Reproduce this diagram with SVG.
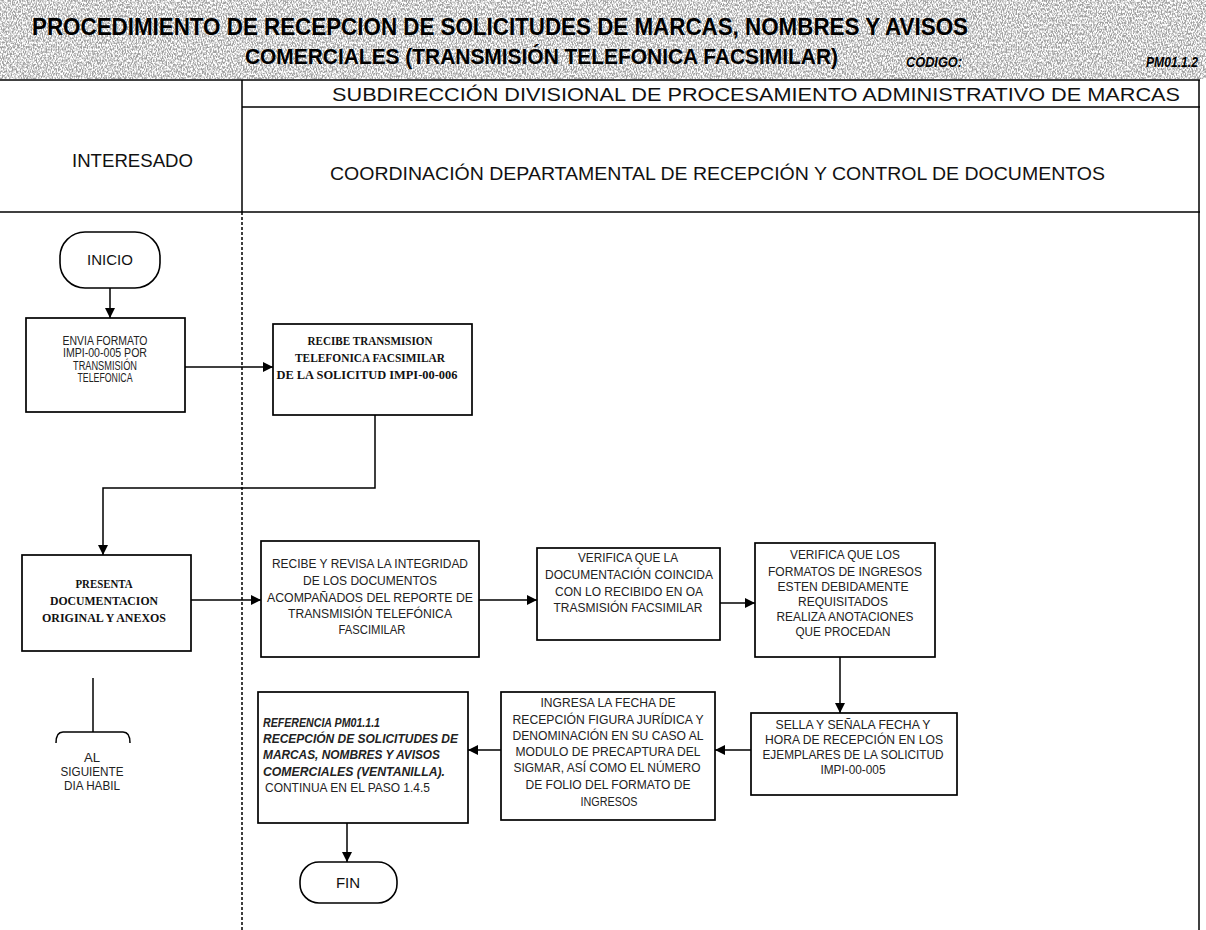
<svg xmlns="http://www.w3.org/2000/svg" width="1206" height="930" viewBox="0 0 1206 930">
  <defs>
    <filter id="grain" x="0" y="0" width="100%" height="100%">
      <feTurbulence type="fractalNoise" baseFrequency="0.8 0.45" numOctaves="2" seed="7"/>
      <feColorMatrix type="matrix" values="0 0 0 0 0.35  0 0 0 0 0.35  0 0 0 0 0.35  3.6 0 0 0 -1.35"/>
    </filter>
    <marker id="ah" viewBox="0 0 10 10" refX="10" refY="5" markerWidth="11" markerHeight="10" markerUnits="userSpaceOnUse" orient="auto">
      <path d="M0,0 L10,5 L0,10 z" fill="#000"/>
    </marker>
    <style>
      .title { font-family: "Liberation Sans", Arial, sans-serif; font-weight: bold; fill: #000; }
      .hdr { font-family: "Liberation Sans", Arial, sans-serif; font-size: 19px; fill: #111; }
      .box { fill: #fff; stroke: #000; stroke-width: 1.7; }
      .term { fill: #fff; stroke: #000; stroke-width: 1.6; }
      .t { font-family: "Liberation Sans", Arial, sans-serif; font-size: 12px; fill: #222; text-anchor: middle; }
      .ts { font-family: "Liberation Serif", "Times New Roman", serif; font-size: 12px; fill: #111; text-anchor: middle; font-weight: bold; }
      .tr { font-family: "Liberation Sans", Arial, sans-serif; font-size: 12px; fill: #222; }
      .ti { font-style: italic; font-weight: bold; }
      .tt { font-family: "Liberation Sans", Arial, sans-serif; font-size: 15px; fill: #111; text-anchor: middle; }
      .rule { stroke: #000; stroke-width: 1.5; fill: none; }
      .conn { stroke: #000; stroke-width: 1.5; fill: none; }
    </style>
  </defs>

  <rect width="1206" height="930" fill="#fff"/>

  <!-- title band -->
  <g id="title">
    <rect x="0" y="0" width="1206" height="79" fill="#fff" filter="url(#grain)"/>
    <text class="title" x="32" y="35" font-size="24" textLength="936" lengthAdjust="spacingAndGlyphs">PROCEDIMIENTO DE RECEPCION DE SOLICITUDES DE MARCAS, NOMBRES Y AVISOS</text>
    <text class="title" x="245" y="64" font-size="22" textLength="593" lengthAdjust="spacingAndGlyphs">COMERCIALES (TRANSMISIÓN TELEFONICA FACSIMILAR)</text>
    <text class="title" x="906" y="67" font-size="14" font-style="italic" textLength="56" lengthAdjust="spacingAndGlyphs">CÓDIGO:</text>
    <text class="title" x="1146" y="67" font-size="14" font-style="italic" font-weight="normal" textLength="52" lengthAdjust="spacingAndGlyphs">PM01.1.2</text>
  </g>

  <!-- swimlane table -->
  <g id="lanes">
    <line class="rule" x1="0" y1="80" x2="1200" y2="80"/>
    <line class="rule" x1="242" y1="107" x2="1200" y2="107"/>
    <line class="rule" x1="0" y1="212" x2="1200" y2="212"/>
    <line class="rule" x1="1199" y1="80" x2="1199" y2="930"/>
    <line class="rule" x1="242" y1="80" x2="242" y2="212"/>
    <line class="rule" x1="242" y1="212" x2="242" y2="930" stroke-dasharray="3 2"/>
    <text class="hdr" x="332" y="101" textLength="848" lengthAdjust="spacingAndGlyphs">SUBDIRECCIÓN DIVISIONAL DE PROCESAMIENTO ADMINISTRATIVO DE MARCAS</text>
    <text class="hdr" x="72" y="167" textLength="121" lengthAdjust="spacingAndGlyphs">INTERESADO</text>
    <text class="hdr" x="330" y="180" textLength="775" lengthAdjust="spacingAndGlyphs">COORDINACIÓN DEPARTAMENTAL DE RECEPCIÓN Y CONTROL DE DOCUMENTOS</text>
  </g>

  <!-- connectors -->
  <g id="connectors">
    <path class="conn" d="M110,288 L110,318" marker-end="url(#ah)"/>
    <path class="conn" d="M185,367 L273,367" marker-end="url(#ah)"/>
    <path class="conn" d="M375,415 L375,488 L103,488 L103,555" marker-end="url(#ah)"/>
    <path class="conn" d="M191,600 L261,600" marker-end="url(#ah)"/>
    <path class="conn" d="M479,600 L537,600" marker-end="url(#ah)"/>
    <path class="conn" d="M720,603 L755,603" marker-end="url(#ah)"/>
    <path class="conn" d="M840,657 L840,713" marker-end="url(#ah)"/>
    <path class="conn" d="M751,750 L715,750" marker-end="url(#ah)"/>
    <path class="conn" d="M501,750 L468,750" marker-end="url(#ah)"/>
    <path class="conn" d="M347,823 L347,862" marker-end="url(#ah)"/>
  </g>

  <g id="inicio">
    <rect class="term" x="60" y="232" width="100" height="56" rx="25"/>
    <text class="tt" x="110" y="265">INICIO</text>
  </g>

  <g id="envia">
    <rect class="box" x="26" y="318" width="159" height="94"/>
    <text class="t" x="105" y="345" textLength="85" lengthAdjust="spacingAndGlyphs">ENVIA FORMATO</text>
    <text class="t" x="105" y="357" textLength="84" lengthAdjust="spacingAndGlyphs">IMPI-00-005 POR</text>
    <text class="t" x="105" y="370" textLength="64" lengthAdjust="spacingAndGlyphs">TRANSMISIÓN</text>
    <text class="t" x="105" y="382" textLength="55" lengthAdjust="spacingAndGlyphs">TELEFONICA</text>
  </g>

  <g id="recibe-transmision">
    <rect class="box" x="273" y="324" width="199" height="91"/>
    <text class="ts" x="370" y="345" textLength="125" lengthAdjust="spacingAndGlyphs">RECIBE TRANSMISION</text>
    <text class="ts" x="370" y="362" textLength="150" lengthAdjust="spacingAndGlyphs">TELEFONICA FACSIMILAR</text>
    <text class="ts" x="367" y="379" textLength="181" lengthAdjust="spacingAndGlyphs">DE LA SOLICITUD IMPI-00-006</text>
  </g>

  <g id="presenta">
    <rect class="box" x="22" y="555" width="169" height="96"/>
    <text class="ts" x="104" y="588" textLength="57" lengthAdjust="spacingAndGlyphs">PRESENTA</text>
    <text class="ts" x="104" y="605" textLength="108" lengthAdjust="spacingAndGlyphs">DOCUMENTACION</text>
    <text class="ts" x="104" y="622" textLength="124" lengthAdjust="spacingAndGlyphs">ORIGINAL Y ANEXOS</text>
  </g>

  <g id="siguiente-dia">
    <path class="conn" d="M93,678 L93,732"/>
    <path class="conn" d="M56,743 Q56,732 63,732 L123,732 Q130,732 130,743"/>
    <text class="t" x="92" y="762" textLength="16" lengthAdjust="spacingAndGlyphs">AL</text>
    <text class="t" x="92" y="776" textLength="63" lengthAdjust="spacingAndGlyphs">SIGUIENTE</text>
    <text class="t" x="92" y="790" textLength="56" lengthAdjust="spacingAndGlyphs">DIA HABIL</text>
  </g>

  <g id="recibe-revisa">
    <rect class="box" x="261" y="541" width="218" height="116"/>
    <text class="t" x="370" y="568" textLength="196" lengthAdjust="spacingAndGlyphs">RECIBE Y REVISA LA INTEGRIDAD</text>
    <text class="t" x="370" y="585" textLength="134" lengthAdjust="spacingAndGlyphs">DE LOS DOCUMENTOS</text>
    <text class="t" x="370" y="602" textLength="206" lengthAdjust="spacingAndGlyphs">ACOMPAÑADOS DEL REPORTE DE</text>
    <text class="t" x="370" y="618" textLength="164" lengthAdjust="spacingAndGlyphs">TRANSMISIÓN  TELEFÓNICA</text>
    <text class="t" x="372" y="634" textLength="67" lengthAdjust="spacingAndGlyphs">FASCIMILAR</text>
  </g>

  <g id="verifica-coincida">
    <rect class="box" x="537" y="548" width="183" height="92"/>
    <text class="t" x="628" y="562" textLength="100" lengthAdjust="spacingAndGlyphs">VERIFICA QUE LA</text>
    <text class="t" x="629" y="579" textLength="168" lengthAdjust="spacingAndGlyphs">DOCUMENTACIÓN COINCIDA</text>
    <text class="t" x="629" y="596" textLength="148" lengthAdjust="spacingAndGlyphs">CON LO RECIBIDO EN OA</text>
    <text class="t" x="628" y="612" textLength="149" lengthAdjust="spacingAndGlyphs">TRASMISIÓN FACSIMILAR</text>
  </g>

  <g id="verifica-formatos">
    <rect class="box" x="755" y="543" width="180" height="114"/>
    <text class="t" x="845" y="559" textLength="110" lengthAdjust="spacingAndGlyphs">VERIFICA QUE LOS</text>
    <text class="t" x="845" y="576" textLength="154" lengthAdjust="spacingAndGlyphs">FORMATOS DE INGRESOS</text>
    <text class="t" x="843" y="591" textLength="131" lengthAdjust="spacingAndGlyphs">ESTEN DEBIDAMENTE</text>
    <text class="t" x="843" y="606" textLength="90" lengthAdjust="spacingAndGlyphs">REQUISITADOS</text>
    <text class="t" x="845" y="621" textLength="137" lengthAdjust="spacingAndGlyphs">REALIZA ANOTACIONES</text>
    <text class="t" x="843" y="636" textLength="95" lengthAdjust="spacingAndGlyphs">QUE PROCEDAN</text>
  </g>

  <g id="sella">
    <rect class="box" x="751" y="713" width="206" height="82"/>
    <text class="t" x="853" y="729" textLength="155" lengthAdjust="spacingAndGlyphs">SELLA Y SEÑALA  FECHA Y</text>
    <text class="t" x="854" y="744" textLength="178" lengthAdjust="spacingAndGlyphs">HORA DE RECEPCIÓN EN LOS</text>
    <text class="t" x="853" y="759" textLength="181" lengthAdjust="spacingAndGlyphs">EJEMPLARES DE LA SOLICITUD</text>
    <text class="t" x="853" y="774" textLength="65" lengthAdjust="spacingAndGlyphs">IMPI-00-005</text>
  </g>

  <g id="ingresa">
    <rect class="box" x="501" y="692" width="214" height="128"/>
    <text class="t" x="608" y="707" textLength="135" lengthAdjust="spacingAndGlyphs">INGRESA LA FECHA DE</text>
    <text class="t" x="608" y="724" textLength="191" lengthAdjust="spacingAndGlyphs">RECEPCIÓN FIGURA JURÍDICA Y</text>
    <text class="t" x="608" y="740" textLength="191" lengthAdjust="spacingAndGlyphs">DENOMINACIÓN  EN SU CASO AL</text>
    <text class="t" x="608" y="756" textLength="185" lengthAdjust="spacingAndGlyphs">MODULO DE PRECAPTURA DEL</text>
    <text class="t" x="607" y="772" textLength="187" lengthAdjust="spacingAndGlyphs">SIGMAR, ASÍ COMO EL NÚMERO</text>
    <text class="t" x="608" y="789" textLength="165" lengthAdjust="spacingAndGlyphs">DE FOLIO DEL FORMATO DE</text>
    <text class="t" x="609" y="806" textLength="57" lengthAdjust="spacingAndGlyphs">INGRESOS</text>
  </g>

  <g id="referencia">
    <rect class="box" x="258" y="692" width="210" height="131"/>
    <text class="tr ti" x="263" y="727" textLength="117" lengthAdjust="spacingAndGlyphs">REFERENCIA PM01.1.1</text>
    <text class="tr ti" x="263" y="743" textLength="195" lengthAdjust="spacingAndGlyphs">RECEPCIÓN DE SOLICITUDES DE</text>
    <text class="tr ti" x="263" y="759" textLength="177" lengthAdjust="spacingAndGlyphs">MARCAS, NOMBRES Y AVISOS</text>
    <text class="tr ti" x="263" y="776" textLength="182" lengthAdjust="spacingAndGlyphs">COMERCIALES (VENTANILLA).</text>
    <text class="tr" x="265" y="792" textLength="165" lengthAdjust="spacingAndGlyphs">CONTINUA EN EL PASO 1.4.5</text>
  </g>

  <g id="fin">
    <rect class="term" x="300" y="862" width="97" height="41" rx="19"/>
    <text class="tt" x="348" y="888">FIN</text>
  </g>
</svg>
